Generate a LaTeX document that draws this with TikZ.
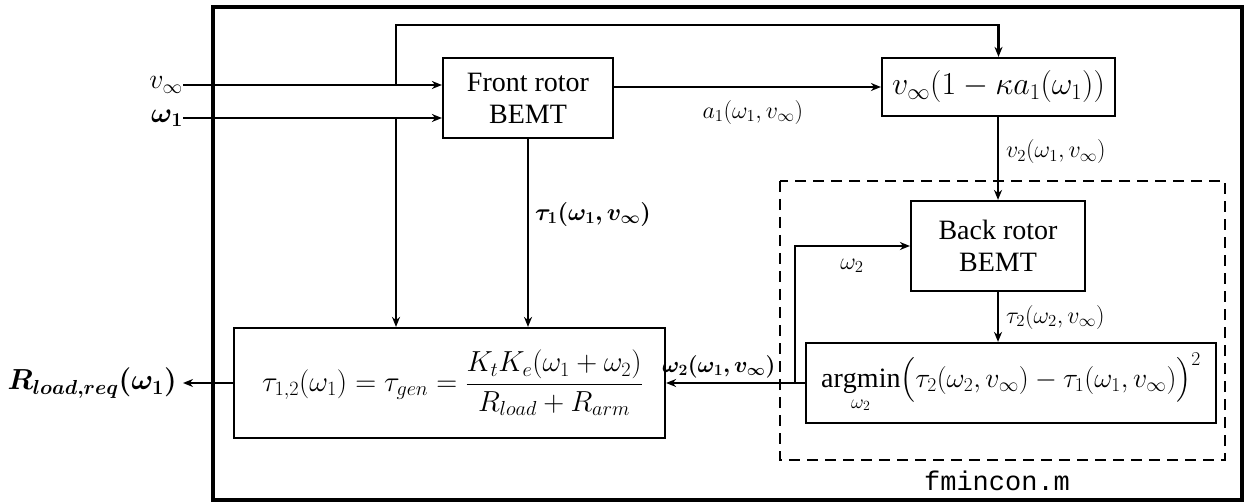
\RequirePackage{fix-cm}
\documentclass[tikz,border=0pt]{standalone}
\usepackage{amsmath}
\usepackage{bm}
\usepackage{fontspec}
\setmainfont{Liberation Serif}
\setmonofont{Liberation Mono}
\usetikzlibrary{arrows.meta}
\begin{document}
\begin{tikzpicture}[x=1pt,y=-1pt,
  arr/.style={line width=2.2pt,-{Stealth[length=10pt,width=8pt]}},
  blk/.style={draw,line width=2.2pt,inner sep=0pt,align=center},
  lbl/.style={inner sep=0pt,font=\fontsize{24}{27}\selectfont},
  big/.style={font=\fontsize{28}{32}\selectfont}]
\useasboundingbox (0,0) rectangle (1246,502);
% outer frame
\draw[line width=3.5pt] (213,7) rectangle (1242,500);
% fmincon region
\draw[line width=2.5pt,dash pattern=on 11pt off 7pt] (780,181) rectangle (1225,460);
\node[inner sep=0pt,font=\ttfamily\fontsize{27}{30}\selectfont] (fm) at (997,481) {fmincon.m};
% blocks
\node[blk,big,minimum width=170pt,minimum height=80pt] (front) at (528,98) {Front rotor\\BEMT};
\node[blk,font=\fontsize{32}{36}\selectfont,minimum width=233pt,minimum height=58pt] (vbox) at (998.5,87) {$v_\infty(1-\kappa a_1(\omega_1))$};
\node[blk,big,minimum width=174pt,minimum height=90pt] (back) at (998,246) {Back rotor\\BEMT};
\node[blk,big,minimum width=410pt,minimum height=80pt] (amin) at (1011,383)
  {$\displaystyle\operatorname*{argmin}_{\omega_2}\bigl(\tau_2(\omega_2,v_\infty)-\tau_1(\omega_1,v_\infty)\bigr)^2$};
\node[blk,font=\fontsize{29}{33}\selectfont,minimum width=431pt,minimum height=110pt] (tau) at (449.5,383)
  {\hspace*{6pt}$\displaystyle\tau_{1,2}(\omega_1)=\tau_{gen}=\frac{K_tK_e(\omega_1+\omega_2)}{R_{load}+R_{arm}}$};
% inputs
\coordinate (vin) at (183,85);
\coordinate (win) at (183,118);
\node[lbl,big,anchor=east] (vlab) at (vin) {$v_\infty$};
\node[lbl,big,anchor=east] (wlab) at (win) {$\bm{\omega_1}$};
\draw[arr] (vin) -- (front.west |- vin);
\draw[arr] (win) -- (front.west |- win);
% feedback of v_inf to top
\coordinate (j1) at (396,85);
\coordinate (j2) at (396,118);
\coordinate (t1) at (396,25);
\draw[arr] (j1) -- (t1) -- (t1 -| vbox.north) -- (vbox.north);
\draw[arr] (j2) -- (j2 |- tau.north);
% front to vbox
\draw[arr] (front.east |- vbox.west) -- (vbox.west)
  node[lbl,pos=0.52,below=12pt] (alab) {$a_1(\omega_1,v_\infty)$};
% vbox to back
\draw[arr] (vbox.south -| back.north) -- (back.north)
  node[lbl,pos=0.42,anchor=west,xshift=7pt] (v2lab) {$v_2(\omega_1,v_\infty)$};
% front to tau
\draw[arr] (front.south) -- (front.south |- tau.north)
  node[lbl,pos=0.4,anchor=west,xshift=6pt] (t1lab) {$\bm{\tau_1(\omega_1,v_\infty)}$};
% back to argmin
\draw[arr] (back.south) -- (back.south |- amin.north)
  node[lbl,pos=0.5,anchor=west,xshift=7pt] (t2lab) {$\tau_2(\omega_2,v_\infty)$};
% omega2 loop
\coordinate (c1) at (795,383);
\coordinate (c2) at (795,246);
\draw[arr] (amin.west) -- (c1) -- (c2) -- (back.west);
\node[lbl] (w2lab) at (852,266) {$\omega_2$};
% amin to tau
\draw[arr] (amin.west) -- (tau.east)
  node[lbl,font=\fontsize{22.5}{26}\selectfont,pos=0.62,above=4pt] (w2b) {$\bm{\omega_2(\omega_1,v_\infty)}$};
% output
\coordinate (out) at (183,383);
\draw[arr] (tau.west) -- (out);
\node[lbl,font=\fontsize{29}{33}\selectfont,anchor=east] (rlab) at (177,383) {$\bm{R_{load,req}(\omega_1)}$};
\end{tikzpicture}
\end{document}
